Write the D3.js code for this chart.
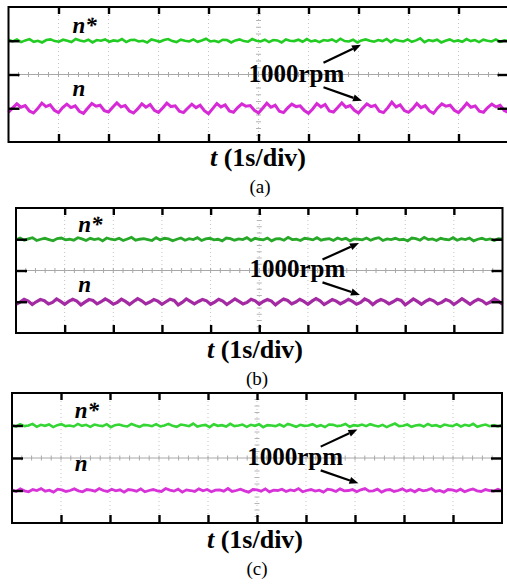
<!DOCTYPE html>
<html><head><meta charset="utf-8">
<script src="https://cdn.jsdelivr.net/npm/d3@7"></script>
<style>body{margin:0;background:#fff}svg{display:block}
text{font-family:"Liberation Serif","Times New Roman",Tinos,"DejaVu Serif",serif;}</style>
</head><body><svg id="c" width="507" height="585"></svg>
<script>
// ---- data (deviations in hundredths of a division around the channel level) ----
const panelIds = ["(a)", "(b)", "(c)"];
const seriesNames = ["n*", "n"];
const annotationText = "1000rpm";
const axisTitle = "(1s/div)";
const timeDomain = [0, 10];      // seconds, 1 s/div
const divDomain = [0, 4];        // vertical divisions
const refLevel = 3;              // n* channel level (div)
const fbLevel = 1;               // n channel level (div)
const xTickVals = [1,2,3,4,5,6,7,8,9];
const yTickVals = [1,2,3];

const nStarA = [3,-2,4,-4,1,5,-3,0,-5,2,4,-1,-3,3,0,-4,5,1,-2,3,-5,2,0,4,-3,1,-1,5,-4,2,3,-2,0,-5,4,1,-3,2,5,-1,-4,3,0,-2,4,-3,1,6,-2,0,-4,3,2,-5,1,4,-1,-3,5,0,-2,3,-4,2,1,-5,4,0,-1,3,-3,5,-2,1,-4,2,0,4,-3,6,-1,-2,3,-5,1,4,0,-3,2,-1,5,-4,3,0,-2,4,-3,1,7,-4,2,-1,3,-5,0,4,-2,1,-3,5,-1,2,-4,3,0,-2,4,-3,1,-1];
const nA = [-12,1,13,3,8,-8,-14,-1,15,5,10,-6,-13,2,12,2,7,-9,-15,0,14,6,9,-7,-11,3,16,4,8,-8,-14,-2,13,3,11,-6,-12,1,15,5,7,-9,-13,0,12,2,9,-7,-16,-1,14,4,10,-8,-12,2,13,6,8,-6,-14,0,15,3,9,-9,-13,1,12,5,7,-7,-15,-2,14,4,11,-8,-11,2,16,3,8,-6,-14,0,13,5,9,-9,-13,1,18,4,10,-7,-12,-1,14,2,8,-8,-15,1,13,6,9,-6,-13,0,15,3,7,-9,-12,2,12,4,9,-7,-13];
const nStarB = [-2,4,-3,1,5,-4,0,3,-1,-5,2,4,-2,0,-3,5,1,-4,3,-1,2,-5,4,0,-2,3,-4,1,6,-3,0,2,-1,-4,5,-2,3,1,-5,0,4,-3,2,-1,5,-4,1,3,-2,0,-5,4,2,-3,1,-1,5,-4,3,0,-2,4,-5,1,2,-3,6,-1,0,-4,3,1,-2,5,-3,0,2,-4,4,-1,3,-5,1,0,-2,4,-3,2,5,-4,1,-1,3,-2,0,-5,4,2,-3,6,-1,1,-4,3,0,-2,5,-3,2,-1,4,-5,0,3,-2,1,-4,2,0];
const nB = [-8,-1,8,2,-9,0,7,3,-7,-2,9,1,-8,1,8,2,-10,-1,7,4,-7,0,9,2,-8,-2,8,1,-9,1,10,3,-7,-1,7,2,-8,0,8,4,-10,-2,9,1,-7,1,7,3,-8,-1,8,2,-9,0,9,1,-7,-2,8,3,-8,1,7,2,-10,0,9,4,-7,-1,8,1,-8,2,10,3,-9,-1,7,2,-7,0,8,1,-8,-2,9,3,-9,1,7,2,-7,0,8,4,-10,-1,9,1,-8,1,8,3,-7,-2,7,2,-9,0,10,1,-8,1,8,3,-7,-1,9,2,-8];
const nStarC = [1,-3,4,-2,0,5,-4,2,-1,3,-5,1,4,-2,0,-3,5,-1,2,-4,3,0,-2,4,-5,1,3,-1,-3,5,0,-4,2,1,-2,4,-3,0,5,-1,-4,3,1,-2,6,-3,0,2,-5,4,-1,1,-3,5,-2,0,3,-4,2,-1,4,-5,1,0,-2,3,-3,5,1,-4,2,-1,0,4,-3,1,-5,3,2,-2,0,5,-4,1,-1,3,-2,4,0,-3,2,-5,1,6,-2,-1,3,-4,0,2,-3,5,-1,1,-4,3,0,-2,4,-3,2,-1,5,-4,0,3,-2,1,-3,2];
const nC = [2,-3,5,-1,-4,3,0,6,-2,1,-5,4,2,-3,0,5,-1,-4,3,1,-2,6,0,-3,4,-1,2,-5,3,1,-2,5,-4,0,3,-1,-3,6,1,-2,4,-5,2,0,-3,5,-1,3,-4,1,2,-2,6,-3,0,4,-1,-5,3,2,-2,5,-4,1,0,4,-3,2,-1,6,-4,0,3,-2,1,-5,4,2,-3,5,-1,0,3,-4,2,6,-2,-1,4,-5,1,3,-3,0,5,-2,2,-4,4,-1,1,6,-3,0,-5,3,2,-2,4,-4,1,5,-1,-3,3,0,-2,4,-1];

// ---- layout / style ----
const panels = [
  {id:panelIds[0], nStar:nStarA, n:nA, box:[8.5,508.5,7,142], nLab:1.36, capX:258, capY:166, subY:193,
   green:"#22cc22", gw:2.6, mag:"#d62ad6", mw:3},
  {id:panelIds[1], nStar:nStarB, n:nB, box:[16,502.5,208,333], nLab:1.31, capX:255, capY:358, subY:385,
   green:"#28a828", gw:2.8, mag:"#a32aa3", mw:3.2},
  {id:panelIds[2], nStar:nStarC, n:nC, box:[12,502,393,523], nLab:1.6, capX:255, capY:548, subY:575,
   green:"#33d633", gw:2.6, mag:"#d833d8", mw:2.8}
];
const svg = d3.select("#c");

panels.forEach(p => {
  const [L,R,T,B] = p.box;
  const x = d3.scaleLinear().domain(timeDomain).range([L,R]);
  const y = d3.scaleLinear().domain(divDomain).range([B,T]);
  const g = svg.append("g");

  // dotted vertical grid
  g.selectAll(null).data(xTickVals).join("line")
    .attr("x1",d=>x(d)).attr("x2",d=>x(d)).attr("y1",T).attr("y2",B)
    .attr("stroke","#c4c4c4").attr("stroke-width",1).attr("stroke-dasharray","1,3");
  // dotted horizontal grid
  g.selectAll(null).data([1,3]).join("line")
    .attr("x1",L).attr("x2",R).attr("y1",d=>y(d)).attr("y2",d=>y(d))
    .attr("stroke","#d0d0d0").attr("stroke-width",1).attr("stroke-dasharray","1,3");
  // centre horizontal axis with minor ticks
  g.append("line").attr("x1",L).attr("x2",R).attr("y1",y(2)).attr("y2",y(2))
    .attr("stroke","#a8a8a8").attr("stroke-width",1);
  g.selectAll(null).data(d3.range(0.2,10,0.2)).join("line")
    .attr("x1",d=>x(d)).attr("x2",d=>x(d)).attr("y1",y(2)-2.5).attr("y2",y(2)+2.5)
    .attr("stroke","#a8a8a8").attr("stroke-width",1);
  // centre vertical axis minor ticks
  g.selectAll(null).data(d3.range(0.2,4,0.2)).join("line")
    .attr("x1",x(5)-2.5).attr("x2",x(5)+2.5).attr("y1",d=>y(d)).attr("y2",d=>y(d))
    .attr("stroke","#b4b4b4").attr("stroke-width",1);

  // traces
  const mk = (arr, level) => d3.line()
    .x((d,i)=>x(timeDomain[1]*i/(arr.length-1)))
    .y(d=>y(level + d/100))(arr);
  g.append("path").attr("d", mk(p.nStar, refLevel)).attr("fill","none")
    .attr("stroke",p.green).attr("stroke-width",p.gw).attr("stroke-linejoin","miter");
  g.append("path").attr("d", mk(p.n, fbLevel)).attr("fill","none")
    .attr("stroke",p.mag).attr("stroke-width",p.mw).attr("stroke-linejoin","miter");

  // frame
  g.append("rect").attr("x",L).attr("y",T).attr("width",R-L).attr("height",B-T)
    .attr("fill","none").attr("stroke","#000").attr("stroke-width",2);

  // major ticks via axes
  const styleAxis = sel => { sel.select(".domain").remove();
    sel.selectAll(".tick line").attr("stroke","#000").attr("stroke-width",2.4); };
  g.append("g").attr("transform",`translate(0,${B})`)
    .call(d3.axisBottom(x).tickValues(xTickVals).tickSize(-8).tickFormat("")).call(styleAxis);
  g.append("g").attr("transform",`translate(0,${T})`)
    .call(d3.axisTop(x).tickValues(xTickVals).tickSize(-7).tickFormat("")).call(styleAxis);
  g.append("g").attr("transform",`translate(${L},0)`)
    .call(d3.axisLeft(y).tickValues(yTickVals).tickSize(-11).tickFormat("")).call(styleAxis);
  g.append("g").attr("transform",`translate(${R},0)`)
    .call(d3.axisRight(y).tickValues(yTickVals).tickSize(-11).tickFormat("")).call(styleAxis);

  // series labels
  g.append("text").attr("x",x(1.28)).attr("y",y(3.23))
    .attr("font-size",23).attr("font-weight","bold").attr("font-style","italic")
    .text(seriesNames[0]);
  g.append("text").attr("x",x(1.28)).attr("y",y(p.nLab))
    .attr("font-size",23).attr("font-weight","bold").attr("font-style","italic")
    .text(seriesNames[1]);

  // annotation
  g.append("text").attr("x",x(4.8)).attr("y",y(1.78))
    .attr("font-size",25).attr("font-weight","bold")
    .text(annotationText);
  const arrow = (t0,v0,t1,v1) => {
    const x0=x(t0), y0=y(v0), x1=x(t1), y1=y(v1);
    const a=Math.atan2(y1-y0,x1-x0), hl=9, hw=3.6;
    const bx=x1-hl*Math.cos(a), by=y1-hl*Math.sin(a);
    g.append("line").attr("x1",x0).attr("y1",y0).attr("x2",bx).attr("y2",by)
      .attr("stroke","#000").attr("stroke-width",2.2);
    g.append("path").attr("d",`M${x1},${y1}L${bx-hw*Math.sin(a)},${by+hw*Math.cos(a)}L${bx+hw*Math.sin(a)},${by-hw*Math.cos(a)}Z`)
      .attr("fill","#000");
  };
  arrow(6.3,2.35,7.05,2.88);
  arrow(6.3,1.62,7.07,1.22);

  // axis caption
  const cap = g.append("text").attr("x",p.capX).attr("y",p.capY).attr("text-anchor","middle")
    .attr("font-size",26).attr("font-weight","bold");
  cap.append("tspan").attr("font-style","italic").text("t");
  cap.append("tspan").text(" " + axisTitle);
  g.append("text").attr("x",p.capX+2).attr("y",p.subY).attr("text-anchor","middle")
    .attr("font-size",19).text(p.id);
});
</script></body></html>
